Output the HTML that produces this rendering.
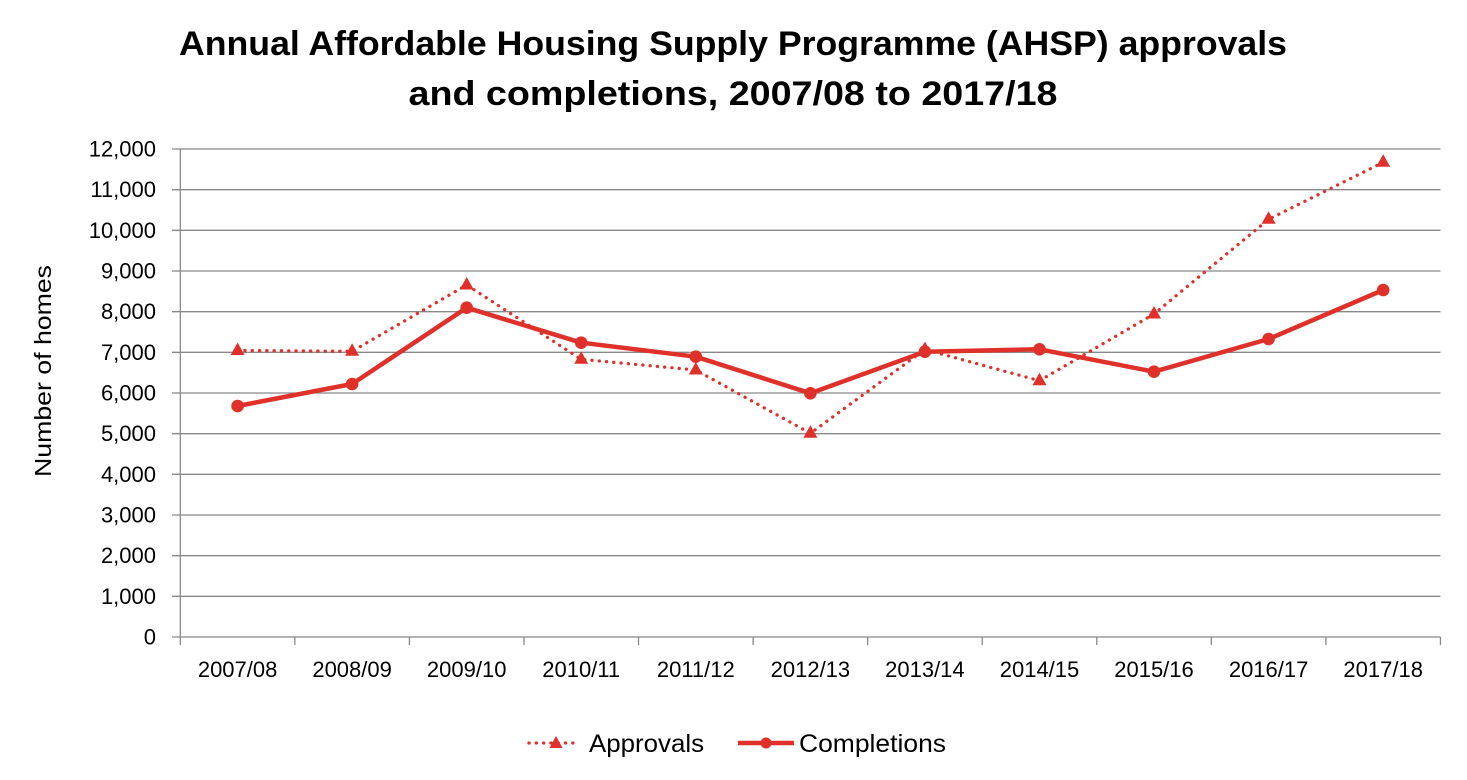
<!DOCTYPE html>
<html>
<head>
<meta charset="utf-8">
<style>
  html, body { margin: 0; padding: 0; background: #ffffff; }
  svg { display: block; }
  text { font-family: "Liberation Sans", Arial, sans-serif; fill: #000; }
</style>
</head>
<body>
<svg width="1467" height="780" viewBox="0 0 1467 780" xmlns="http://www.w3.org/2000/svg">
  <rect width="1467" height="780" fill="#ffffff"/>

  <!-- Title -->
  <text x="733" y="55" text-anchor="middle" font-size="34" font-weight="bold" textLength="1108" lengthAdjust="spacingAndGlyphs">Annual Affordable Housing Supply Programme (AHSP) approvals</text>
  <text x="733" y="105" text-anchor="middle" font-size="34" font-weight="bold" textLength="649" lengthAdjust="spacingAndGlyphs">and completions, 2007/08 to 2017/18</text>

  <!-- Gridlines -->
  <g stroke="#898989" stroke-width="1.3">
    <line x1="172" y1="149" x2="1440.5" y2="149"/>
    <line x1="172" y1="189.67" x2="1440.5" y2="189.67"/>
    <line x1="172" y1="230.33" x2="1440.5" y2="230.33"/>
    <line x1="172" y1="271" x2="1440.5" y2="271"/>
    <line x1="172" y1="311.67" x2="1440.5" y2="311.67"/>
    <line x1="172" y1="352.33" x2="1440.5" y2="352.33"/>
    <line x1="172" y1="393" x2="1440.5" y2="393"/>
    <line x1="172" y1="433.67" x2="1440.5" y2="433.67"/>
    <line x1="172" y1="474.33" x2="1440.5" y2="474.33"/>
    <line x1="172" y1="515" x2="1440.5" y2="515"/>
    <line x1="172" y1="555.67" x2="1440.5" y2="555.67"/>
    <line x1="172" y1="596.33" x2="1440.5" y2="596.33"/>
    <line x1="172" y1="637" x2="1440.5" y2="637"/>
    <!-- vertical axis -->
    <line x1="180.3" y1="149" x2="180.3" y2="645"/>
    <!-- x ticks -->
    <line x1="294.86" y1="637" x2="294.86" y2="645"/>
    <line x1="409.42" y1="637" x2="409.42" y2="645"/>
    <line x1="523.98" y1="637" x2="523.98" y2="645"/>
    <line x1="638.54" y1="637" x2="638.54" y2="645"/>
    <line x1="753.1" y1="637" x2="753.1" y2="645"/>
    <line x1="867.66" y1="637" x2="867.66" y2="645"/>
    <line x1="982.22" y1="637" x2="982.22" y2="645"/>
    <line x1="1096.78" y1="637" x2="1096.78" y2="645"/>
    <line x1="1211.34" y1="637" x2="1211.34" y2="645"/>
    <line x1="1325.9" y1="637" x2="1325.9" y2="645"/>
    <line x1="1440.46" y1="637" x2="1440.46" y2="645"/>
  </g>

  <!-- Y labels -->
  <g font-size="22" text-anchor="end">
    <text x="156" y="156.5">12,000</text>
    <text x="156" y="197.2">11,000</text>
    <text x="156" y="237.8">10,000</text>
    <text x="156" y="278.5">9,000</text>
    <text x="156" y="319.2">8,000</text>
    <text x="156" y="359.8">7,000</text>
    <text x="156" y="400.5">6,000</text>
    <text x="156" y="441.2">5,000</text>
    <text x="156" y="481.8">4,000</text>
    <text x="156" y="522.5">3,000</text>
    <text x="156" y="563.2">2,000</text>
    <text x="156" y="603.8">1,000</text>
    <text x="156" y="644.5">0</text>
  </g>

  <!-- Y axis title -->
  <text transform="translate(51,371) rotate(-90)" text-anchor="middle" font-size="23" textLength="212" lengthAdjust="spacingAndGlyphs">Number of homes</text>

  <!-- X labels -->
  <g font-size="22" text-anchor="middle">
    <text x="237.6" y="677">2007/08</text>
    <text x="352.1" y="677">2008/09</text>
    <text x="466.7" y="677">2009/10</text>
    <text x="581.2" y="677">2010/11</text>
    <text x="695.8" y="677">2011/12</text>
    <text x="810.4" y="677">2012/13</text>
    <text x="924.9" y="677">2013/14</text>
    <text x="1039.5" y="677">2014/15</text>
    <text x="1154" y="677">2015/16</text>
    <text x="1268.6" y="677">2016/17</text>
    <text x="1383.2" y="677">2017/18</text>
  </g>

  <!-- Approvals (dotted with triangles) -->
  <polyline fill="none" stroke="#E0302A" stroke-width="3.3" stroke-linecap="round" stroke-dasharray="0.1 7.2"
    points="237.6,350.5 352.1,351.3 466.7,285 581.2,359.3 695.8,370 810.4,433.3 924.9,349.5 1039.5,380.7 1154,314 1268.6,219.3 1383.2,162.3"/>
  <g fill="#E0302A">
    <polygon points="237.6,342.5 244.6,355 230.6,355"/>
    <polygon points="352.1,343.3 359.1,355.8 345.1,355.8"/>
    <polygon points="466.7,277 473.7,289.5 459.7,289.5"/>
    <polygon points="581.2,351.3 588.2,363.8 574.2,363.8"/>
    <polygon points="695.8,362 702.8,374.5 688.8,374.5"/>
    <polygon points="810.4,425.3 817.4,437.8 803.4,437.8"/>
    <polygon points="924.9,341.5 931.9,354 917.9,354"/>
    <polygon points="1039.5,372.7 1046.5,385.2 1032.5,385.2"/>
    <polygon points="1154,306 1161,318.5 1147,318.5"/>
    <polygon points="1268.6,211.3 1275.6,223.8 1261.6,223.8"/>
    <polygon points="1383.2,154.3 1390.2,166.8 1376.2,166.8"/>
  </g>

  <!-- Completions (solid with circles) -->
  <polyline fill="none" stroke="#E0302A" stroke-width="4.5" stroke-linejoin="round"
    points="237.6,406 352.1,384 466.7,307.7 581.2,342.7 695.8,356.7 810.4,393.3 924.9,351.7 1039.5,349.3 1154,371.7 1268.6,339 1383.2,290"/>
  <g fill="#E0302A">
    <circle cx="237.6" cy="406" r="6.3"/>
    <circle cx="352.1" cy="384" r="6.3"/>
    <circle cx="466.7" cy="307.7" r="6.3"/>
    <circle cx="581.2" cy="342.7" r="6.3"/>
    <circle cx="695.8" cy="356.7" r="6.3"/>
    <circle cx="810.4" cy="393.3" r="6.3"/>
    <circle cx="924.9" cy="351.7" r="6.3"/>
    <circle cx="1039.5" cy="349.3" r="6.3"/>
    <circle cx="1154" cy="371.7" r="6.3"/>
    <circle cx="1268.6" cy="339" r="6.3"/>
    <circle cx="1383.2" cy="290" r="6.3"/>
  </g>

  <!-- Legend -->
  <line x1="529" y1="743" x2="579" y2="743" stroke="#E0302A" stroke-width="3.3" stroke-linecap="round" stroke-dasharray="0.1 7.2"/>
  <polygon points="556,736 562.5,748 549.5,748" fill="#E0302A"/>
  <text x="589" y="752" font-size="25" textLength="115" lengthAdjust="spacingAndGlyphs">Approvals</text>

  <line x1="738" y1="743" x2="794" y2="743" stroke="#E0302A" stroke-width="4.5"/>
  <circle cx="766" cy="743" r="5.5" fill="#E0302A"/>
  <text x="799" y="752" font-size="25" textLength="147" lengthAdjust="spacingAndGlyphs">Completions</text>
</svg>
</body>
</html>
